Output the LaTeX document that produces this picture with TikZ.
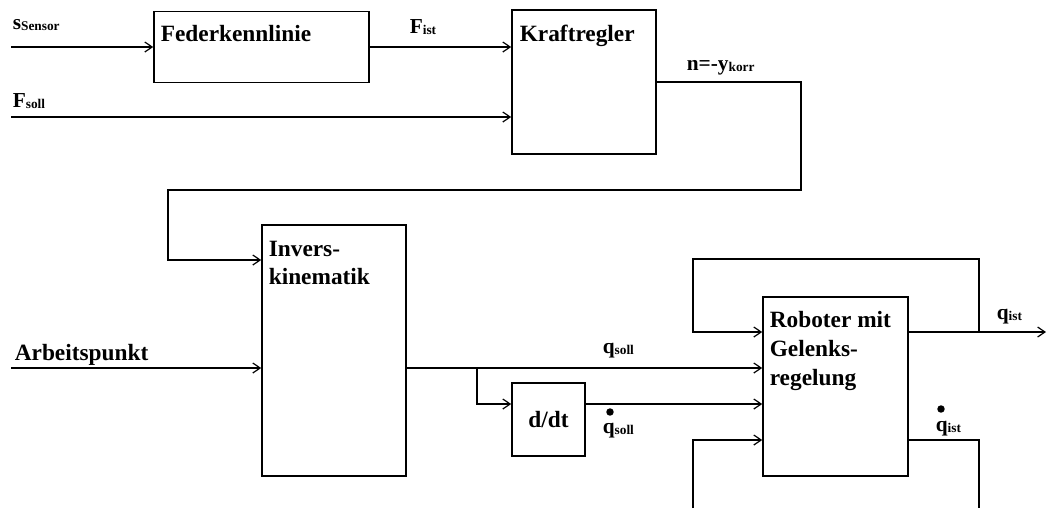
\documentclass[tikz,border=0pt]{standalone}
\usepackage{fontspec}
\setmainfont{Liberation Serif}
\usetikzlibrary{arrows.meta}
\newcommand{\sbs}[1]{\lower1.2pt\hbox{\fontsize{10}{10}\selectfont\bfseries #1}}
\begin{document}
\begin{tikzpicture}[x=0.75pt,y=-0.75pt,
  line width=1.2pt,
  >={Straight Barb[length=5.5pt,width=7.5pt,line width=0.9pt]},
  blk/.style={draw,line width=1.2pt,inner sep=0pt,fill=none},
  btxt/.style={inner sep=0pt,align=left,font=\fontsize{17.5}{21.5}\selectfont\bfseries},
  lbl/.style={inner sep=0pt,font=\fontsize{16}{17}\selectfont\bfseries}]
\useasboundingbox (0,0) rectangle (1047,508);

% blocks
\node[blk,minimum width=161.25pt,minimum height=53.25pt] (fed) at (261.5,47) {};
\node[blk,minimum width=108pt,minimum height=108pt] (kraft) at (584,82) {};
\node[blk,minimum width=108pt,minimum height=188.25pt] (inv) at (334,350.5) {};
\node[blk,minimum width=108.75pt,minimum height=134.25pt] (rob) at (835.5,386.5) {};
\node[blk,minimum width=54.75pt,minimum height=54.75pt,font=\fontsize{17.5}{21}\selectfont\bfseries] (ddt) at (548.5,419.5) {d/dt};

% block texts
\node[btxt,anchor=base west] (tfed) at (160,41) {Federkennlinie};
\node[btxt,anchor=base west] (tkraft) at (519,41) {Kraftregler};
\node[btxt,anchor=north west] (tinv) at (268,240) {Invers-\\kinematik};
\node[btxt,anchor=north west] (trob) at (769,311) {Roboter mit\\Gelenks-\\regelung};

% labels
\node[lbl,anchor=base west] (lsens) at (12,29) {s\sbs{Sensor}};
\node[lbl,anchor=base west] (lfist) at (409,33) {F\sbs{ist}};
\node[lbl,anchor=base west] (lfsoll) at (12,107) {F\sbs{soll}};
\node[lbl,anchor=base west] (lnk) at (686,70) {n=-y\sbs{korr}};
\node[btxt,anchor=base west] (larb) at (14,360) {Arbeitspunkt};
\node[lbl,anchor=base west] (lqs) at (602,353) {q\sbs{soll}};
\node[lbl,anchor=base west] (lqds) at (602,433) {q\sbs{soll}};
\node[lbl,anchor=base west] (lqi) at (996,319) {q\sbs{ist}};
\node[lbl,anchor=base west] (lqdi) at (935,431) {q\sbs{ist}};
\fill (610,412) circle (2.8pt);
\fill (941,409) circle (2.8pt);

% coordinates
\coordinate (sin) at (11,47);
\coordinate (fsin) at (11,117);
\coordinate (k1) at (801,82);
\coordinate (k2) at (801,190);
\coordinate (k3) at (168,190);
\coordinate (k4) at (168,260);
\coordinate (ain) at (11,368);
\coordinate (br) at (477,368);
\coordinate (br2) at (477,404);
\coordinate (t1) at (979,332);
\coordinate (t2) at (979,259);
\coordinate (t3) at (693,259);
\coordinate (t4) at (693,332);
\coordinate (qout) at (1046,332);
\coordinate (b1) at (979,440);
\coordinate (b2) at (979,508);
\coordinate (b3) at (693,508);
\coordinate (b4) at (693,440);

% connectors
\draw[->] (sin) -- (sin -| fed.west);
\draw[->] (fed.east) -- (fed.east -| kraft.west);
\draw[->] (fsin) -- (fsin -| kraft.west);
\draw[->] (kraft.east) -- (k1) -- (k2) -- (k3) -- (k4) -- (k4 -| inv.west);
\draw[->] (ain) -- (ain -| inv.west);
\draw[->] (inv.east |- ain) -- (rob.west |- ain);
\draw[->] (br) -- (br2) -- (br2 -| ddt.west);
\draw[->] (ddt.east |- br2) -- (rob.west |- br2);
\draw[->] (rob.east |- t1) -- (qout);
\draw[->] (t1) -- (t2) -- (t3) -- (t4) -- (rob.west |- t4);
\draw (rob.east |- b1) -- (b1) -- (b2);
\draw[->] (b3) -- (b4) -- (rob.west |- b4);
\end{tikzpicture}
\end{document}
